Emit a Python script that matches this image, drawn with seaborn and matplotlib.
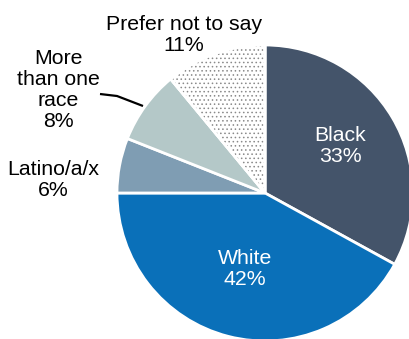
import matplotlib
matplotlib.use("Agg")
import matplotlib.pyplot as plt
from matplotlib.patches import Wedge
import seaborn as sns

# data
labels = ["Black", "White", "Latino/a/x", "More than one race", "Prefer not to say"]
shares = [33, 42, 6, 8, 11]
colors = ["#44546a", "#0a70b9", "#7f9db3", "#b4c8c8", "#ffffff"]

sns.set_theme(style="white")
plt.rcParams["font.family"] = ["Liberation Sans", "DejaVu Sans"]
plt.rcParams["hatch.linewidth"] = 0.6

fig = plt.figure(figsize=(4.09, 3.39), dpi=100)
ax = fig.add_axes([0, 0, 1, 1])

wedges, _ = ax.pie(shares, colors=colors, startangle=90, counterclock=False,
                   center=(265, 146), radius=148, frame=True,
                   wedgeprops=dict(edgecolor="white", linewidth=2))
ax.set_xlim(0, 409)
ax.set_ylim(0, 339)
ax.set_aspect("equal")
ax.axis("off")

# dotted fill for "Prefer not to say"
w = wedges[4]
dots = Wedge(w.center, w.r, w.theta1, w.theta2, facecolor="none",
             edgecolor="#8a8a8a", linewidth=0, hatch="....", zorder=w.get_zorder() + 0.1)
ax.add_patch(dots)
rim = Wedge(w.center, w.r, w.theta1, w.theta2, facecolor="none",
            edgecolor="white", linewidth=2, zorder=w.get_zorder() + 0.2)
ax.add_patch(rim)

fs = 15.3
ls = 1.15
ax.text(340, 193, f"{labels[0]}\n{shares[0]}%", color="white", fontsize=fs,
        ha="center", va="center", linespacing=ls)
ax.text(245, 70, f"{labels[1]}\n{shares[1]}%", color="white", fontsize=fs,
        ha="center", va="center", linespacing=ls)
ax.text(53, 159, f"{labels[2]}\n{shares[2]}%", color="black", fontsize=fs,
        ha="center", va="center", linespacing=ls)
ax.text(58, 249, f"More\nthan one\nrace\n{shares[3]}%", color="black", fontsize=fs,
        ha="center", va="center", linespacing=ls)
ax.text(184, 304, f"{labels[4]}\n{shares[4]}%", color="black", fontsize=fs,
        ha="center", va="center", linespacing=ls)

# leader line for "More than one race"
ax.plot([100, 117, 143], [245, 243, 233], color="black", linewidth=1.6,
        solid_capstyle="butt")

fig.savefig("out.png", dpi=100, facecolor="white")
